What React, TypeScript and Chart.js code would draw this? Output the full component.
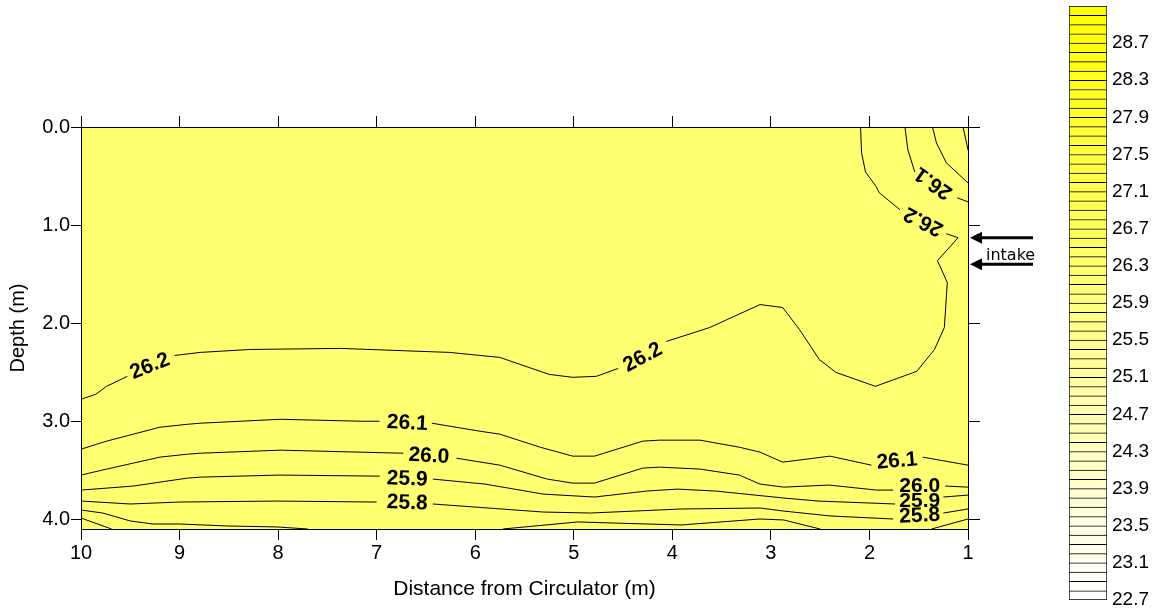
import React, { useEffect, useRef } from 'react';
import { Chart, registerables } from 'chart.js';

Chart.register(...registerables);
Chart.defaults.font.family = "'Liberation Sans', Arial, sans-serif";

type Pt = [number, number] | null;

// Distance (m) / depth (m) ranges
const X_MIN = 1;
const X_MAX = 10;
const DEPTH_MIN = 0;
const DEPTH_MAX = 4.1;

// Contour lines (null = gap where the label sits)
const C_262: Pt[] = [[10.0, 2.777], [9.85, 2.726], [9.74, 2.645], [9.53, 2.543], null, [9.05, 2.33], [8.79, 2.299], [8.29, 2.269], [7.37, 2.258], [6.26, 2.299], [5.75, 2.35], [5.25, 2.523], [5.01, 2.553], [4.77, 2.543], [4.55, 2.462], null, [4.06, 2.187], [3.62, 2.045], [3.11, 1.811], [2.88, 1.841], [2.71, 2.065], [2.51, 2.37], [2.34, 2.503], [1.94, 2.645], [1.52, 2.492], [1.34, 2.269], [1.24, 2.045], [1.21, 1.587], [1.31, 1.363], [1.1, 1.129], [1.22, 1.088], null, [1.69, 0.844], [1.9, 0.671], [1.93, 0.61], [2.04, 0.458], [2.08, 0.264], [2.09, 0]];
const C_261_TOP: Pt[] = [[1.64, 0], [1.61, 0.234], [1.54, 0.458], null, [1.11, 0.722], [1.0, 0.763]];
const C_260_TOP: Pt[] = [[1.36, 0], [1.32, 0.163], [1.22, 0.366], [1.0, 0.57]];
const C_259_TOP: Pt[] = [[1.05, 0], [1.0, 0.234]];
const C_261: Pt[] = [[10.0, 3.286], [9.84, 3.235], [9.74, 3.204], [9.47, 3.133], [9.2, 3.062], [8.92, 3.032], [8.79, 3.021], [7.98, 2.981], [7.15, 3.001], [6.97, 3.001], null, [6.44, 3.021], [5.95, 3.103], [5.75, 3.133], [5.34, 3.266], [5.01, 3.357], [4.79, 3.357], [4.3, 3.204], [4.13, 3.194], [3.72, 3.194], [3.32, 3.266], [3.11, 3.316], [2.88, 3.418], [2.4, 3.357], [1.98, 3.449], null, [1.46, 3.367], [1.0, 3.449]];
const C_260: Pt[] = [[10.0, 3.55], [9.74, 3.489], [9.47, 3.428], [9.2, 3.367], [8.92, 3.337], [8.79, 3.327], [7.98, 3.296], [6.73, 3.327], null, [6.19, 3.378], [5.75, 3.449], [5.27, 3.591], [5.01, 3.632], [4.79, 3.632], [4.3, 3.479], [4.13, 3.469], [3.72, 3.489], [3.32, 3.55], [3.11, 3.642], [2.87, 3.673], [2.41, 3.652], [1.93, 3.703], [1.76, 3.703], null, [1.23, 3.662], [1.0, 3.673]];
const C_259: Pt[] = [[10.0, 3.703], [9.74, 3.683], [9.47, 3.662], [9.2, 3.622], [8.92, 3.581], [8.79, 3.571], [7.98, 3.55], [6.97, 3.561], null, [6.43, 3.591], [5.9, 3.642], [5.31, 3.744], [4.79, 3.774], [4.26, 3.713], [3.95, 3.693], [3.56, 3.713], [2.87, 3.784], [2.52, 3.815], [1.74, 3.845], null, [1.25, 3.774], [1.0, 3.754]];
const C_258: Pt[] = [[10.0, 3.815], [9.5, 3.845], [9.0, 3.825], [8.01, 3.815], [7.0, 3.825], null, [6.43, 3.845], [5.31, 3.927], [4.83, 3.937], [3.91, 3.896], [3.11, 3.886], [2.87, 3.917], [2.4, 3.967], [1.76, 3.998], null, [1.25, 3.937], [1.0, 3.896]];
const C_257_LEFT: Pt[] = [[10.0, 3.906], [9.78, 3.937], [9.5, 4.018], [9.27, 4.049], [9.0, 4.049], [8.52, 4.069], [8.01, 4.079], [7.7, 4.1]];
const C_257_MID: Pt[] = [[5.72, 4.1], [4.96, 4.028], [4.6, 4.039], [3.91, 4.059], [3.11, 3.998], [2.87, 4.008], [2.5, 4.1]];
const C_257_RIGHT: Pt[] = [[1.37, 4.1], [1.0, 3.998]];
const C_256: Pt[] = [[10.0, 3.988], [9.69, 4.1]];

const CONTOURS: Pt[][] = [C_262, C_261_TOP, C_260_TOP, C_259_TOP, C_261, C_260, C_259, C_258, C_257_LEFT, C_257_MID, C_257_RIGHT, C_256];

// Contour labels: text, distance, depth, rotation (deg)
const LABEL_TEXT = ['26.2', '26.2', '26.2', '26.1', '26.1', '26.0', '25.9', '25.8', '26.1', '26.0', '25.9', '25.8'];
const LABEL_X = [9.3, 4.3, 1.45, 1.35, 6.69, 6.47, 6.69, 6.69, 1.72, 1.49, 1.49, 1.49];
const LABEL_Y = [2.441, 2.35, 0.96, 0.57, 3.021, 3.357, 3.591, 3.835, 3.408, 3.662, 3.815, 3.967];
const LABEL_ROT = [-22, -28, 207, 215, 3, 3, 2, 2, -5, 0, 0, -3];

// Intake arrows at x = 1 m
const INTAKE_DEPTHS = [1.13, 1.4];

// Colour scale
const LEVELS = [22.7, 22.8, 22.9, 23.0, 23.1, 23.2, 23.3, 23.4, 23.5, 23.6, 23.7, 23.8, 23.9, 24.0, 24.1, 24.2, 24.3, 24.4, 24.5, 24.6, 24.7, 24.8, 24.9, 25.0, 25.1, 25.2, 25.3, 25.4, 25.5, 25.6, 25.7, 25.8, 25.9, 26.0, 26.1, 26.2, 26.3, 26.4, 26.5, 26.6, 26.7, 26.8, 26.9, 27.0, 27.1, 27.2, 27.3, 27.4, 27.5, 27.6, 27.7, 27.8, 27.9, 28.0, 28.1, 28.2, 28.3, 28.4, 28.5, 28.6, 28.7, 28.8, 28.9, 29.0, 29.1];
const CBAR_TICKS = [22.7, 23.1, 23.5, 23.9, 24.3, 24.7, 25.1, 25.5, 25.9, 26.3, 26.7, 27.1, 27.5, 27.9, 28.3, 28.7];
const FIELD_LEVEL = 26.2;

function bandColor(lo: number): string {
  const first = LEVELS[0];
  const last = LEVELS[LEVELS.length - 2];
  const t = Math.min(1, Math.max(0, (lo - first) / (last - first)));
  const b = Math.round(255 * (1 - t));
  return `rgb(255,255,${b})`;
}

function toData(seg: Pt[]) {
  return seg.map((p) => (p ? { x: p[0], y: p[1] } : { x: null, y: null }));
}

const plotBgPlugin = {
  id: 'plotBg',
  beforeDraw(chart: any) {
    const { ctx, chartArea } = chart;
    ctx.save();
    ctx.fillStyle = bandColor(FIELD_LEVEL);
    ctx.fillRect(chartArea.left, chartArea.top, chartArea.right - chartArea.left, chartArea.bottom - chartArea.top);
    ctx.restore();
  },
};

const labelPlugin = {
  id: 'contourLabels',
  afterDatasetsDraw(chart: any) {
    const { ctx, scales } = chart;
    ctx.save();
    ctx.fillStyle = '#000';
    ctx.font = "bold 21px 'Liberation Sans', Arial, sans-serif";
    ctx.textAlign = 'center';
    ctx.textBaseline = 'middle';
    LABEL_TEXT.forEach((t, i) => {
      const px = scales.x.getPixelForValue(LABEL_X[i]);
      const py = scales.y.getPixelForValue(LABEL_Y[i]);
      ctx.save();
      ctx.translate(px, py);
      ctx.rotate((LABEL_ROT[i] * Math.PI) / 180);
      ctx.fillText(t, 0, 0);
      ctx.restore();
    });
    ctx.restore();
  },
};

const intakePlugin = {
  id: 'intake',
  afterDraw(chart: any) {
    const { ctx, scales } = chart;
    const tipX = scales.x.getPixelForValue(1) + 2;
    ctx.save();
    ctx.fillStyle = '#000';
    ctx.strokeStyle = '#000';
    INTAKE_DEPTHS.forEach((d) => {
      const y = scales.y.getPixelForValue(d);
      ctx.lineWidth = 3;
      ctx.beginPath();
      ctx.moveTo(tipX + 10, y);
      ctx.lineTo(tipX + 63, y);
      ctx.stroke();
      ctx.beginPath();
      ctx.moveTo(tipX, y);
      ctx.lineTo(tipX + 12, y - 6);
      ctx.lineTo(tipX + 12, y + 6);
      ctx.closePath();
      ctx.fill();
    });
    const yLow = scales.y.getPixelForValue(INTAKE_DEPTHS[1]);
    ctx.font = "16px 'DejaVu Sans', sans-serif";
    ctx.textAlign = 'left';
    ctx.textBaseline = 'alphabetic';
    ctx.fillText('intake', tipX + 16, yLow - 4);
    ctx.restore();
  },
};

export default function App() {
  const mainRef = useRef<HTMLCanvasElement>(null);
  const barRef = useRef<HTMLCanvasElement>(null);

  useEffect(() => {
    if (!mainRef.current || !barRef.current) return;

    const datasets: any[] = CONTOURS.map((seg) => ({
      data: toData(seg),
      showLine: true,
      borderColor: '#000',
      borderWidth: 1,
      pointRadius: 0,
      pointHoverRadius: 0,
      tension: 0,
      spanGaps: false,
      fill: false,
    }));

    const axisGrid = (len: number) => ({ drawOnChartArea: false, color: '#000', lineWidth: 1, tickLength: len, drawTicks: true });

    const main = new Chart(mainRef.current, {
      type: 'scatter',
      data: { datasets },
      options: {
        animation: false,
        responsive: false,
        events: [],
        layout: { padding: 0 },
        plugins: { legend: { display: false }, tooltip: { enabled: false } },
        scales: {
          x: {
            type: 'linear', position: 'bottom', min: X_MIN, max: X_MAX, reverse: true,
            ticks: { stepSize: 1, color: '#000', font: { size: 20 }, padding: 1, maxRotation: 0, autoSkip: false, callback: (v: any) => String(v) },
            grid: axisGrid(11),
            border: { color: '#000', width: 1 },
            title: { display: true, text: 'Distance from Circulator (m)', color: '#000', font: { size: 21 }, padding: { top: 0, bottom: 9 } },
            afterFit: (s: any) => { s.height = 82; },
          },
          x2: {
            type: 'linear', position: 'top', min: X_MIN, max: X_MAX, reverse: true,
            ticks: { stepSize: 1, display: false, autoSkip: false },
            grid: axisGrid(11),
            border: { color: '#000', width: 1 },
            afterFit: (s: any) => { s.height = 127; },
          },
          y: {
            type: 'linear', position: 'left', min: DEPTH_MIN, max: DEPTH_MAX, reverse: true,
            ticks: { stepSize: 1, includeBounds: false, color: '#000', font: { size: 20 }, padding: 1, callback: (v: any) => Number(v).toFixed(1) },
            grid: axisGrid(10),
            border: { color: '#000', width: 1 },
            title: { display: true, text: 'Depth (m)', color: '#000', font: { size: 20 }, padding: { top: 6, bottom: 0 } },
            afterFit: (s: any) => { s.width = 81; },
          },
          y2: {
            type: 'linear', position: 'right', min: DEPTH_MIN, max: DEPTH_MAX, reverse: true,
            ticks: { stepSize: 1, includeBounds: false, display: false },
            grid: axisGrid(12),
            border: { color: '#000', width: 1 },
            afterFit: (s: any) => { s.width = 196; },
          },
        },
      } as any,
      plugins: [plotBgPlugin, labelPlugin, intakePlugin],
    });

    const bands = LEVELS.slice(0, -1).map((lo, i) => ({
      data: [[lo, LEVELS[i + 1]]],
      backgroundColor: bandColor(lo),
      borderColor: '#000',
      borderWidth: { top: 1, left: 1, right: 1, bottom: i === 0 ? 1 : 0 },
      borderSkipped: false,
      grouped: false,
      barPercentage: 1,
      categoryPercentage: 1,
    }));

    const bar = new Chart(barRef.current, {
      type: 'bar',
      data: { labels: [''], datasets: bands as any },
      options: {
        animation: false,
        responsive: false,
        events: [],
        layout: { padding: { left: 10, top: 6, bottom: 11, right: 0 } },
        plugins: { legend: { display: false }, tooltip: { enabled: false } },
        scales: {
          x: { display: false },
          y: {
            position: 'right', min: LEVELS[0], max: LEVELS[LEVELS.length - 1],
            afterBuildTicks: (s: any) => { s.ticks = CBAR_TICKS.map((v) => ({ value: v })); },
            afterFit: (s: any) => { s.width = 57; s.paddingTop = 0; s.paddingBottom = 0; },
            grid: { display: false, drawTicks: false },
            border: { display: false },
            ticks: { padding: 5, color: '#000', font: { size: 19 }, autoSkip: false, callback: (v: any) => Number(v).toFixed(1) },
          },
        },
      } as any,
    });

    return () => {
      main.destroy();
      bar.destroy();
    };
  }, []);

  return (
    <div style={{ position: 'absolute', left: 0, top: 0, width: 1164, height: 611, background: '#fff' }}>
      <canvas ref={mainRef} width={1164} height={611} style={{ position: 'absolute', left: 0, top: 0 }} />
      <canvas ref={barRef} width={105} height={611} style={{ position: 'absolute', left: 1059, top: 0 }} />
    </div>
  );
}
